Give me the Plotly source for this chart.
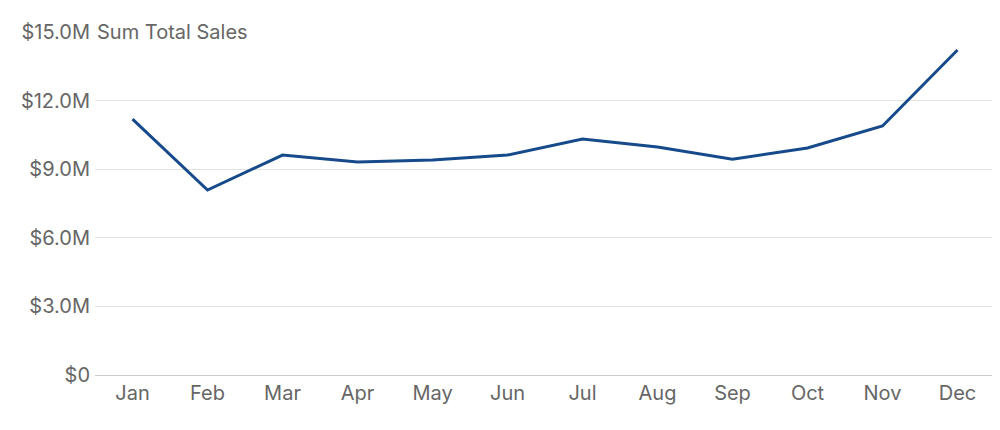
import plotly.graph_objects as go

months = ["Jan","Feb","Mar","Apr","May","Jun","Jul","Aug","Sep","Oct","Nov","Dec"]
sales = [11.19e6, 8.09e6, 9.62e6, 9.31e6, 9.40e6, 9.62e6, 10.32e6, 9.97e6, 9.44e6, 9.93e6, 10.89e6, 14.21e6]
tickvals = [0, 3e6, 6e6, 9e6, 12e6, 15e6]
ticktext = ["$0", "$3.0M", "$6.0M", "$9.0M", "$12.0M", "$15.0M"]

fig = go.Figure(go.Scatter(x=months, y=sales, mode="lines",
                           line=dict(color="#164a8a", width=3)))
fig.update_layout(
    width=1000, height=430, plot_bgcolor="white", paper_bgcolor="white",
    margin=dict(l=87, r=13, t=24, b=63), showlegend=False,
    font=dict(family="Inter", size=20, color="#666666"),
    xaxis=dict(showgrid=False, showline=True, linecolor="#cccccc", ticks="",
               range=[-0.5, 11.5]),
    yaxis=dict(range=[0, 15e6], tickvals=tickvals, ticktext=ticktext,
               gridcolor="#e3e3e3", zeroline=False, ticks="", ticklabelstandoff=4),
    annotations=[dict(text="Sum Total Sales", xref="paper", yref="y", x=0, y=15e6,
                      xanchor="left", yanchor="middle", showarrow=False,
                      bgcolor="white", font=dict(size=20, color="#666666"))],
)
fig.write_html("out.html")
